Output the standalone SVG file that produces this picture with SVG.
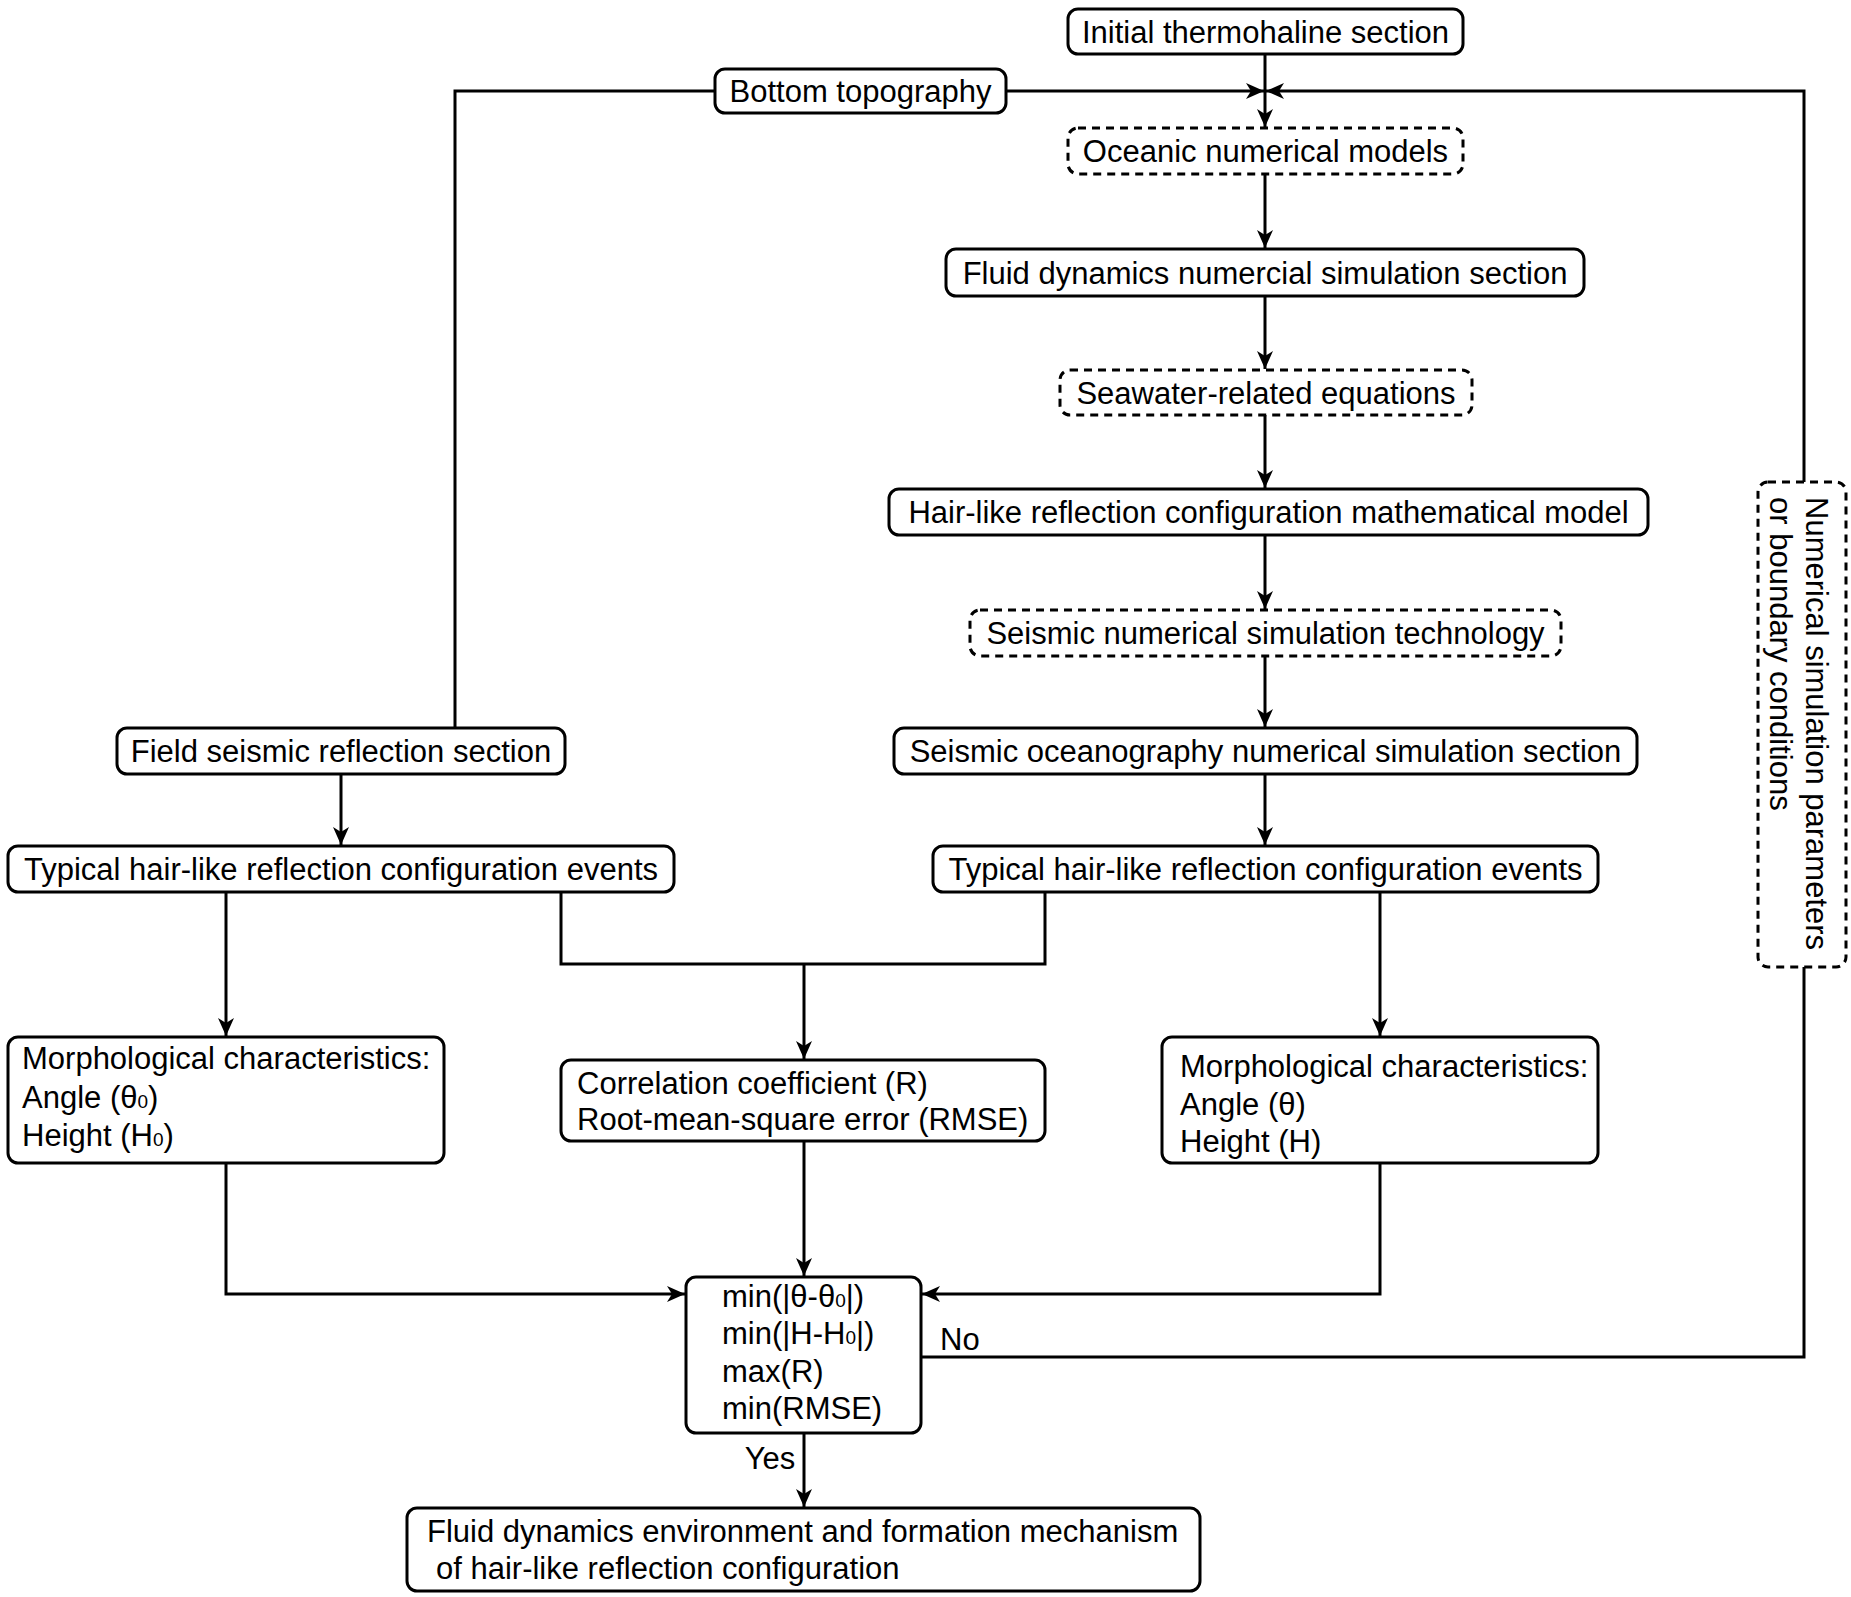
<svg xmlns="http://www.w3.org/2000/svg" width="1851" height="1597" viewBox="0 0 1851 1597">
<style>
.box{fill:#fff;stroke:#000;stroke-width:3}
.dash{fill:#fff;stroke:#000;stroke-width:3;stroke-dasharray:8 6}
.t{font-family:"Liberation Sans",Arial,sans-serif;font-size:31px;fill:#000}
.c{text-anchor:middle}
.ln{fill:none;stroke:#000;stroke-width:3}
.s{font-size:19px}
</style>
<defs>
<marker id="ar" markerUnits="userSpaceOnUse" markerWidth="20" markerHeight="18" refX="18" refY="8" orient="auto">
<path d="M0,0 L18,8 L0,16 L5,8 z" fill="#000"/>
</marker>
</defs>
<rect width="1851" height="1597" fill="#fff"/>
<g id="connectors">
<path class="ln" d="M1265,54 V127" marker-end="url(#ar)"/>
<path class="ln" d="M1006,91 H1264" marker-end="url(#ar)"/>
<path class="ln" d="M1804,482 V91 H1266" marker-end="url(#ar)"/>
<path class="ln" d="M715,91 H455 V728"/>
<path class="ln" d="M1265,174 V248" marker-end="url(#ar)"/>
<path class="ln" d="M1265,296 V369" marker-end="url(#ar)"/>
<path class="ln" d="M1265,415 V488" marker-end="url(#ar)"/>
<path class="ln" d="M1265,535 V609" marker-end="url(#ar)"/>
<path class="ln" d="M1265,656 V727" marker-end="url(#ar)"/>
<path class="ln" d="M1265,774 V845" marker-end="url(#ar)"/>
<path class="ln" d="M341,774 V845" marker-end="url(#ar)"/>
<path class="ln" d="M226,892 V1036" marker-end="url(#ar)"/>
<path class="ln" d="M561,892 V964 H1045 V892"/>
<path class="ln" d="M804,964 V1059" marker-end="url(#ar)"/>
<path class="ln" d="M1380,892 V1036" marker-end="url(#ar)"/>
<path class="ln" d="M226,1163 V1294 H685" marker-end="url(#ar)"/>
<path class="ln" d="M804,1141 V1276" marker-end="url(#ar)"/>
<path class="ln" d="M1380,1163 V1294 H922" marker-end="url(#ar)"/>
<path class="ln" d="M921,1357 H1804 V967"/>
<path class="ln" d="M804,1433 V1507" marker-end="url(#ar)"/>
<text class="t" x="940" y="1350">No</text>
<text class="t c" x="770" y="1469">Yes</text>
</g>
<g id="initial"><rect class="box" x="1068" y="9" width="395" height="45" rx="10"/><text class="t c" x="1265.5" y="42.5">Initial thermohaline section</text></g>
<g id="bottom"><rect class="box" x="715" y="69" width="291" height="44" rx="10"/><text class="t c" x="860.5" y="102">Bottom topography</text></g>
<g id="oceanic"><rect class="dash" x="1068" y="128" width="395" height="46" rx="10"/><text class="t c" x="1265.5" y="162">Oceanic numerical models</text></g>
<g id="fluid"><rect class="box" x="946" y="249" width="638" height="47" rx="10"/><text class="t c" x="1265" y="283.5">Fluid dynamics numercial simulation section</text></g>
<g id="seawater"><rect class="dash" x="1060" y="370" width="412" height="45" rx="10"/><text class="t c" x="1266" y="403.5">Seawater-related equations</text></g>
<g id="hairmodel"><rect class="box" x="889" y="489" width="759" height="46" rx="10"/><text class="t c" x="1268.5" y="523">Hair-like reflection configuration mathematical model</text></g>
<g id="seisnum"><rect class="dash" x="970" y="610" width="591" height="46" rx="10"/><text class="t c" x="1265.5" y="644">Seismic numerical simulation technology</text></g>
<g id="seisocean"><rect class="box" x="894" y="728" width="743" height="46" rx="10"/><text class="t c" x="1265.5" y="762">Seismic oceanography numerical simulation section</text></g>
<g id="field"><rect class="box" x="117" y="728" width="448" height="46" rx="10"/><text class="t c" x="341" y="762">Field seismic reflection section</text></g>
<g id="typleft"><rect class="box" x="8" y="846" width="666" height="46" rx="10"/><text class="t c" x="341" y="880">Typical hair-like reflection configuration events</text></g>
<g id="typright"><rect class="box" x="933" y="846" width="665" height="46" rx="10"/><text class="t c" x="1265.5" y="880">Typical hair-like reflection configuration events</text></g>
<g id="morphleft"><rect class="box" x="8" y="1037" width="436" height="126" rx="10"/>
<text class="t" x="22" y="1069">Morphological characteristics:</text>
<text class="t" x="22" y="1108">Angle (θ<tspan class="s">0</tspan>)</text>
<text class="t" x="22" y="1146">Height (H<tspan class="s">0</tspan>)</text></g>
<g id="corr"><rect class="box" x="561" y="1060" width="484" height="81" rx="10"/>
<text class="t" x="577" y="1094">Correlation coefficient (R)</text>
<text class="t" x="577" y="1130">Root-mean-square error (RMSE)</text></g>
<g id="morphright"><rect class="box" x="1162" y="1037" width="436" height="126" rx="10"/>
<text class="t" x="1180" y="1077">Morphological characteristics:</text>
<text class="t" x="1180" y="1115">Angle (θ)</text>
<text class="t" x="1180" y="1152">Height (H)</text></g>
<g id="criteria"><rect class="box" x="686" y="1277" width="235" height="156" rx="10"/>
<text class="t" x="722" y="1307">min(|θ-θ<tspan class="s">0</tspan>|)</text>
<text class="t" x="722" y="1344">min(|H-H<tspan class="s">0</tspan>|)</text>
<text class="t" x="722" y="1382">max(R)</text>
<text class="t" x="722" y="1419">min(RMSE)</text></g>
<g id="final"><rect class="box" x="407" y="1508" width="793" height="83" rx="10"/>
<text class="t" x="427" y="1542">Fluid dynamics environment and formation mechanism</text>
<text class="t" x="436" y="1579">of hair-like reflection configuration</text></g>
<g id="params"><rect class="dash" x="1758" y="482" width="88" height="485" rx="10"/>
<text class="t" transform="translate(1806,497) rotate(90)">Numerical simulation parameters</text>
<text class="t" transform="translate(1770,497) rotate(90)">or boundary conditions</text></g>
</svg>
